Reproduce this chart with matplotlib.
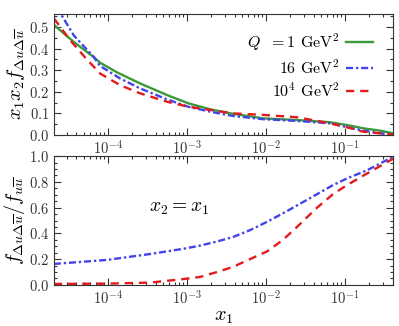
import numpy as np
import matplotlib
matplotlib.use("Agg")
import matplotlib.pyplot as plt
from matplotlib.ticker import MultipleLocator, LogLocator, NullFormatter

plt.rcParams.update({
    "font.family": "serif",
    "font.serif": ["cmr10"],
    "mathtext.fontset": "cm",
    "axes.unicode_minus": False,
    "axes.formatter.use_mathtext": True,
    "font.size": 10.5,
    "xtick.direction": "in", "ytick.direction": "in",
    "xtick.top": True, "ytick.right": True,
    "xtick.major.size": 5, "ytick.major.size": 5,
    "xtick.minor.size": 2.5, "ytick.minor.size": 2.5,
    "axes.edgecolor": "#333333",
    "xtick.color": "#333333", "ytick.color": "#333333",
})

GREEN, BLUE, RED = "#3a9a3a", "#4343ee", "#e41a1c"

# top panel: x1 x2 f_{Δu Δubar} vs log10(x1)
lx_q1 = [-4.684, -4.430, -4.177, -4.101, -3.886, -3.595, -3.253, -2.987, -2.709, -2.418,
         -2.038, -1.608, -1.190, -0.975, -0.772, -0.557, -0.392]
q1 = [0.51, 0.43, 0.36, 0.335, 0.29, 0.239, 0.185, 0.147, 0.119, 0.098,
      0.077, 0.069, 0.059, 0.046, 0.031, 0.02, 0.008]

lx_q16 = [-4.684, -4.595, -4.430, -4.177, -4.101, -3.848, -3.595, -3.253, -2.987, -2.709,
          -2.418, -2.038, -1.608, -1.190, -0.975, -0.772, -0.557, -0.392]
q16 = [0.58, 0.56, 0.46, 0.36, 0.32, 0.262, 0.216, 0.165, 0.131, 0.108,
       0.088, 0.073, 0.065, 0.054, 0.036, 0.02, 0.008, 0.003]

lx_q1e4 = [-4.684, -4.481, -4.291, -4.101, -3.848, -3.595, -3.253, -2.987, -2.709, -2.418,
           -2.038, -1.608, -1.190, -0.975, -0.772, -0.557, -0.392]
q1e4 = [0.54, 0.44, 0.36, 0.285, 0.231, 0.193, 0.154, 0.131, 0.116, 0.10,
        0.093, 0.082, 0.054, 0.036, 0.015, 0.008, 0.002]

# bottom panel: ratio f_{ΔuΔubar}/f_{uubar} vs log10(x1)
lx_r16 = [-4.684, -4.013, -3.468, -3.051, -2.835, -2.620, -2.418, -2.203, -1.987, -1.785,
          -1.570, -1.152, -0.975, -0.722, -0.392]
r16 = [0.163, 0.194, 0.24, 0.28, 0.305, 0.337, 0.372, 0.425, 0.49, 0.556,
       0.63, 0.775, 0.827, 0.89, 0.995]

lx_r1e4 = [-4.684, -4.013, -3.468, -3.051, -2.835, -2.620, -2.418, -2.203, -1.987, -1.785,
           -1.608, -1.354, -1.152, -0.975, -0.722, -0.392]
r1e4 = [0.008, 0.01, 0.018, 0.045, 0.062, 0.10, 0.14, 0.20, 0.26, 0.35,
        0.45, 0.60, 0.705, 0.775, 0.865, 0.98]

labels = [r"$Q\ \ = 1$ GeV$^2$", r"16 GeV$^2$", r"$10^4$ GeV$^2$"]

fig = plt.figure(figsize=(3.99, 3.26), dpi=100)
ax1 = fig.add_axes([0.135, 0.586, 0.850, 0.371])
ax2 = fig.add_axes([0.135, 0.126, 0.850, 0.395])

lw = 1.7
dashdot = (0, (3, 1.2, 1, 1.2))
dashed = (0, (3.5, 2.5))
ax1.plot(10 ** np.array(lx_q1), q1, color=GREEN, lw=lw, label=labels[0])
ax1.plot(10 ** np.array(lx_q16), q16, color=BLUE, lw=lw, ls=dashdot, label=labels[1])
ax1.plot(10 ** np.array(lx_q1e4), q1e4, color=RED, lw=lw, ls=dashed, label=labels[2])

ax2.plot(10 ** np.array(lx_r16), r16, color=BLUE, lw=lw, ls=dashdot)
ax2.plot(10 ** np.array(lx_r1e4), r1e4, color=RED, lw=lw, ls=dashed)

for ax in (ax1, ax2):
    ax.set_xscale("log")
    ax.set_xlim(2.07e-5, 0.405)
    ax.xaxis.set_major_locator(LogLocator(base=10, numticks=10))
    ax.xaxis.set_minor_locator(LogLocator(base=10, subs=np.arange(2, 10), numticks=20))
    ax.xaxis.set_minor_formatter(NullFormatter())
    ax.tick_params(which="both", width=0.8)

ax1.set_ylim(0, 0.56)
ax1.yaxis.set_major_locator(MultipleLocator(0.1))
ax1.yaxis.set_minor_locator(MultipleLocator(0.05))
ax2.set_ylim(0, 1.0)
ax2.yaxis.set_major_locator(MultipleLocator(0.2))
ax2.yaxis.set_minor_locator(MultipleLocator(0.05))

ax1.set_ylabel(r"$x_1 x_2 f_{\Delta u \Delta \overline{u}}$", fontsize=14.5, labelpad=1)
ax2.set_ylabel(r"$f_{\Delta u \Delta \overline{u}}/f_{u\overline{u}}$", fontsize=14.5, labelpad=1)
ax2.set_xlabel(r"$x_1$", fontsize=14.5, labelpad=0)

ax1.legend(loc="upper right", bbox_to_anchor=(0.96, 0.91), frameon=False, markerfirst=False,
           fontsize=11.5, handlelength=1.7, handletextpad=0.4, labelspacing=0.33, borderaxespad=0)
ax2.text(0.37, 0.6, r"$x_2 = x_1$", transform=ax2.transAxes, fontsize=14, ha="center", va="center")

fig.savefig("out.png", dpi=100)
